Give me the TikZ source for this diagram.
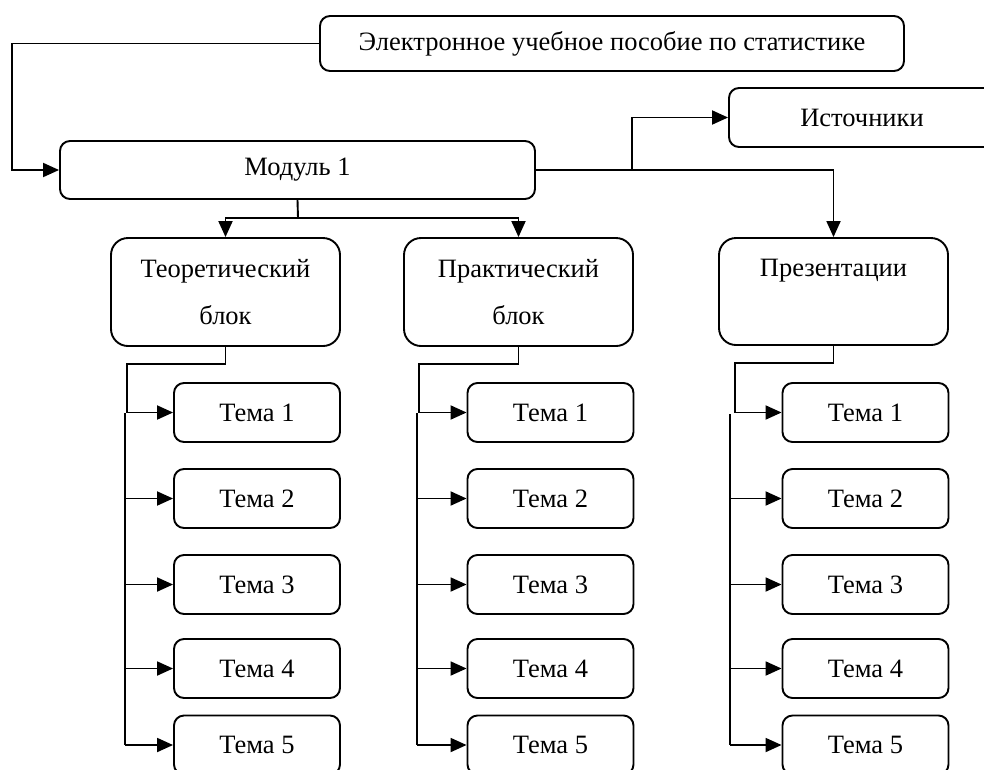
\documentclass[tikz,border=0pt]{standalone}
\usepackage{fontspec}
\setmainfont{Liberation Serif}
\usetikzlibrary{arrows.meta}
\begin{document}
\begin{tikzpicture}[x=1pt,y=-1pt,
  box/.style={draw, line width=1.9pt, rounded corners=10pt, inner sep=0pt, align=center,
    font=\fontsize{26.5}{47}\selectfont},
  bigbox/.style={box, rounded corners=17pt},
  tema/.style={box, minimum width=166pt, minimum height=59pt},
  conn/.style={line width=1.9pt},
  arr/.style={conn, -{Triangle[length=16pt,width=14pt]}},
  arrboth/.style={conn, {Triangle[length=16pt,width=14pt]}-{Triangle[length=16pt,width=14pt]}}]
\useasboundingbox (0,0) rectangle (984,769);

\node[box, minimum width=584pt, minimum height=55pt] (top) at (612,43.5) {Электронное учебное пособие по статистике};
\node[box, minimum width=475pt, minimum height=58pt] (mod) at (297.5,170) {Модуль 1};
\node[box, minimum width=266pt, minimum height=59pt] (ist) at (862,117.5) {Источники};
\node[bigbox, minimum width=229pt, minimum height=108pt] (teor) at (225.5,292) {Теоретический\\блок};
\node[bigbox, minimum width=229pt, minimum height=108pt] (prak) at (518.5,292) {Практический\\блок};
\node[bigbox, minimum width=229pt, minimum height=107pt] (pres) at (833.5,291.5) {Презентации\\\mbox{}};

\foreach \c/\x in {1/257,2/550.5,3/865.5}{
  \foreach \r/\y in {1/412.5,2/498.5,3/584.5,4/668.5,5/745}{
    \node[tema] (t\c\r) at (\x,\y) {Тема \r};
  }
}

\coordinate (lx) at (12,0);
\coordinate (jx) at (632,0);
\coordinate (mj) at (298,218);

\draw[arr] (top.west) -- (top.west -| lx) -- (mod.west -| lx) -- (mod.west);
\draw[arr] (mod.east) -- (mod.east -| jx) |- (ist.west);
\draw[arr] (mod.east) -| (pres.north);
\draw[conn] (mod.south) -- (mj);
\draw[arrboth] (teor.north) |- (mj) -| (prak.north);

\coordinate (a1) at (127,364);
\coordinate (b1) at (125,413);
\coordinate (a2) at (419,364);
\coordinate (b2) at (417,413);
\coordinate (a3) at (735,363);
\coordinate (b3) at (730,414);

\draw[arr] (teor.south) |- (a1) |- (t11.west);
\draw[arr] (prak.south) |- (a2) |- (t21.west);
\draw[arr] (pres.south) |- (a3) |- (t31.west);

\foreach \c in {1,2,3}{
  \draw[conn] (b\c) -- (b\c |- t\c5.west);
  \foreach \r in {2,3,4,5}{
    \draw[arr] (b\c |- t\c\r.west) -- (t\c\r.west);
  }
}
\end{tikzpicture}
\end{document}
